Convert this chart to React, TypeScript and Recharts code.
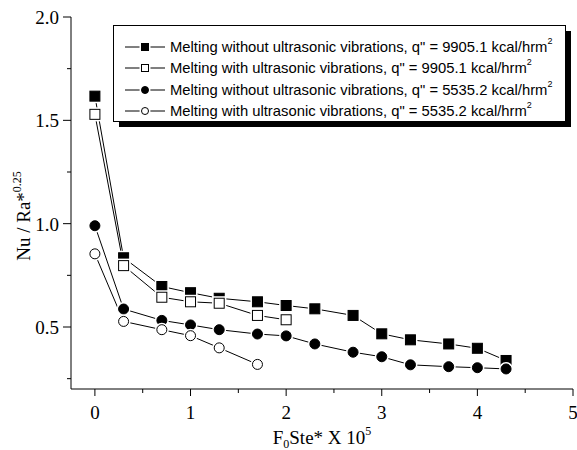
import React from 'react';
import { LineChart, Line, XAxis, YAxis } from 'recharts';

// ---- data ----
const xLong = [0, 0.3, 0.7, 1.0, 1.3, 1.7, 2.0, 2.3, 2.7, 3.0, 3.3, 3.7, 4.0, 4.3];
const xShort9905 = [0, 0.3, 0.7, 1.0, 1.3, 1.7, 2.0];
const xShort5535 = [0, 0.3, 0.7, 1.0, 1.3, 1.7];

const withoutUS9905 = [1.617, 0.835, 0.696, 0.666, 0.639, 0.622, 0.604, 0.588, 0.556, 0.467, 0.438, 0.418, 0.397, 0.338];
const withUS9905 = [1.529, 0.797, 0.644, 0.622, 0.615, 0.556, 0.535];
const withoutUS5535 = [0.99, 0.587, 0.532, 0.51, 0.487, 0.466, 0.457, 0.418, 0.378, 0.356, 0.317, 0.308, 0.303, 0.297];
const withUS5535 = [0.854, 0.527, 0.487, 0.458, 0.399, 0.319];

const seriesNames = [
  'Melting without ultrasonic vibrations, q" = 9905.1 kcal/hrm',
  'Melting with ultrasonic vibrations, q" = 9905.1 kcal/hrm',
  'Melting without ultrasonic vibrations, q" = 5535.2 kcal/hrm',
  'Melting with ultrasonic vibrations, q" = 5535.2 kcal/hrm',
];
const seriesShapes = ['square', 'square', 'circle', 'circle'];
const seriesFilled = [true, false, true, false];

const xTicks = [0, 0.5, 1, 1.5, 2, 2.5, 3, 3.5, 4, 4.5, 5];
const yTicks = [0.25, 0.5, 0.75, 1.0, 1.25, 1.5, 1.75, 2.0];

const toPoints = (xs: number[], ys: number[]) => xs.map((x, i) => ({ x, y: ys[i] }));
const seriesData = [
  toPoints(xLong, withoutUS9905),
  toPoints(xShort9905, withUS9905),
  toPoints(xLong, withoutUS5535),
  toPoints(xShort5535, withUS5535),
];

const SERIF = '"Liberation Serif", "DejaVu Serif", serif';
const SANS = '"Liberation Sans", Arial, sans-serif';

const Marker = ({ cx, cy, shape, filled, size }: any) => {
  if (cx == null || cy == null) return null;
  const h = size / 2;
  const halo = 1.5;
  if (shape === 'square') {
    return (
      <g>
        <rect x={cx - h - halo} y={cy - h - halo} width={size + 2 * halo} height={size + 2 * halo} fill="#fff" />
        <rect x={cx - h + 0.5} y={cy - h + 0.5} width={size - 1} height={size - 1} fill={filled ? '#000' : '#fff'} stroke="#000" strokeWidth={1} />
      </g>
    );
  }
  return (
    <g>
      <circle cx={cx} cy={cy} r={h + halo} fill="#fff" />
      <circle cx={cx} cy={cy} r={h - 0.5} fill={filled ? '#000' : '#fff'} stroke="#000" strokeWidth={1} />
    </g>
  );
};

const YTick = (props: any) => {
  const { x, y, payload } = props;
  const v = payload.value;
  const major = Math.abs(v * 2 - Math.round(v * 2)) < 1e-6;
  const len = major ? 8 : 4;
  return (
    <g>
      <line x1={x} x2={x - len} y1={y} y2={y} stroke="#000" strokeWidth={1} />
      {major && (
        <text x={x - 12} y={y} dy="0.36em" textAnchor="end" fontFamily={SERIF} fontSize={19} fill="#000">
          {v.toFixed(1)}
        </text>
      )}
    </g>
  );
};

const XTick = (props: any) => {
  const { x, y, payload } = props;
  const v = payload.value;
  const major = Math.abs(v - Math.round(v)) < 1e-6;
  const len = major ? 7 : 4;
  return (
    <g>
      <line x1={x} x2={x} y1={y} y2={y + len} stroke="#000" strokeWidth={1} />
      {major && (
        <text x={x} y={y + 30} textAnchor="middle" fontFamily={SERIF} fontSize={19} fill="#000">
          {String(v)}
        </text>
      )}
    </g>
  );
};

const XLabel = (props: any) => {
  const vb = props.viewBox || {};
  const cx = vb.x + vb.width / 2;
  const y = vb.y + 55;
  return (
    <text x={cx} y={y} textAnchor="middle" fontFamily={SERIF} fontSize={19} fill="#000">
      F<tspan fontSize={12} dy={4}>0</tspan>
      <tspan dy={-4}>Ste* X 10</tspan>
      <tspan fontSize={12} dy={-9}>5</tspan>
    </text>
  );
};

const YLabel = (props: any) => {
  const vb = props.viewBox || {};
  const x = vb.x + 30;
  const y = vb.y + vb.height / 2 + 13;
  return (
    <text x={x} y={y} transform={`rotate(-90 ${x} ${y})`} textAnchor="middle" fontFamily={SERIF} fontSize={19} fill="#000">
      Nu / Ra*<tspan fontSize={12} dy={-9}>0.25</tspan>
    </text>
  );
};

const LegendBox = () => {
  const w = 452;
  const h = 96;
  const rowY = [27, 48, 70, 91];
  return (
    <svg width={w + 8} height={h + 8} style={{ position: 'absolute', left: 112.5, top: 24.5, overflow: 'visible' }}>
      <rect x={6} y={6} width={w} height={h} fill="#000" />
      <rect x={0.5} y={0.5} width={w} height={h} fill="#fff" stroke="#000" strokeWidth={1} />
      {seriesNames.map((name, i) => (
        <g key={name}>
          <line x1={12} x2={52} y1={rowY[i] - 5} y2={rowY[i] - 5} stroke="#000" strokeWidth={1} />
          <Marker cx={32} cy={rowY[i] - 5} shape={seriesShapes[i]} filled={seriesFilled[i]} size={8} />
          <text x={57} y={rowY[i]} fontFamily={SANS} fontSize={14.8} fill="#000">
            {name}
            <tspan fontSize={9} dy={-8}>2</tspan>
          </text>
        </g>
      ))}
    </svg>
  );
};

export default function App() {
  return (
    <div style={{ position: 'relative', width: 577, height: 450, overflow: 'hidden', background: '#fff' }}>
      <style>{'html,body{margin:0;padding:0;overflow:hidden;}'}</style>
      <LineChart width={577} height={450} margin={{ top: 17, right: 4, left: 0, bottom: 11 }}>
        <XAxis
          type="number"
          dataKey="x"
          domain={[-0.25, 5]}
          ticks={xTicks}
          allowDataOverflow
          height={50}
          tickSize={0}
          tickMargin={0}
          tickLine={false}
          tick={<XTick />}
          axisLine={{ stroke: '#000', strokeWidth: 1 }}
          interval={0}
          label={{ content: (p: any) => <XLabel {...p} /> }}
        />
        <YAxis
          type="number"
          dataKey="y"
          domain={[0.2, 2.0]}
          ticks={yTicks}
          allowDataOverflow
          width={71}
          tickSize={0}
          tickMargin={0}
          tickLine={false}
          tick={<YTick />}
          axisLine={{ stroke: '#000', strokeWidth: 1 }}
          interval={0}
          label={{ content: (p: any) => <YLabel {...p} /> }}
        />
        {seriesData.map((d, i) => (
          <Line
            key={i}
            data={d}
            dataKey="y"
            type="linear"
            stroke="#000"
            strokeWidth={1}
            isAnimationActive={false}
            dot={(p: any) => (
              <Marker key={`m${i}-${p.index}`} cx={p.cx} cy={p.cy} shape={seriesShapes[i]} filled={seriesFilled[i]} size={11} />
            )}
            activeDot={false}
          />
        ))}
      </LineChart>
      <LegendBox />
    </div>
  );
}
